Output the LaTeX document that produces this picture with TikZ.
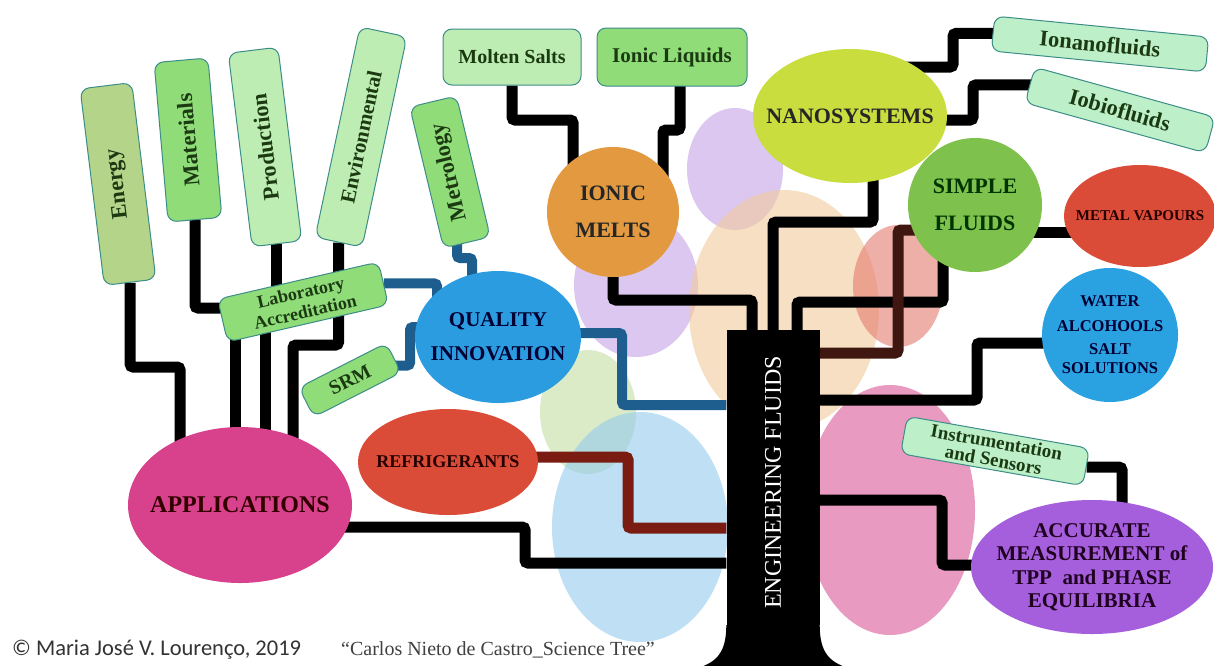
\documentclass[tikz,border=0pt]{standalone}
\usepackage{fontspec}
\setmainfont{Liberation Serif}
\newfontfamily\creditfont{Carlito}
\usetikzlibrary{shapes.geometric}
\pgfdeclarelayer{bubbles}
\pgfdeclarelayer{wires}
\pgfsetlayers{bubbles,wires,main}

\definecolor{appMagenta}{HTML}{D8428D}
\definecolor{refRed}{HTML}{DA4B38}
\definecolor{qualBlue}{HTML}{2B9CE0}
\definecolor{meltOrange}{HTML}{E2993F}
\definecolor{nanoLime}{HTML}{C9DD3F}
\definecolor{simpleGreen}{HTML}{7EC14C}
\definecolor{waterBlue}{HTML}{2AA2E2}
\definecolor{accPurple}{HTML}{A55FDC}
\definecolor{wireBlue}{HTML}{1E5E8E}
\definecolor{wireRed}{HTML}{7A1C12}
\definecolor{wireBrown}{HTML}{3F1610}
\definecolor{bubLavender}{HTML}{C5A2E6}
\definecolor{bubPeach}{HTML}{F2CA9E}
\definecolor{bubSalmon}{HTML}{E37B6E}
\definecolor{bubSage}{HTML}{C5DEA3}
\definecolor{bubSky}{HTML}{93CBEE}
\definecolor{bubPink}{HTML}{D95796}
\definecolor{leafEdge}{HTML}{3C8C88}
\definecolor{leafText}{HTML}{1C3A12}
\definecolor{leafOlive}{HTML}{B4D48A}
\definecolor{leafGreen}{HTML}{8FDC79}
\definecolor{leafPale}{HTML}{BDEDB2}
\definecolor{leafMint}{HTML}{BDF0C8}

\tikzset{
  leaf/.style={draw=leafEdge, line width=1pt, rounded corners=9pt, inner sep=2pt,
    text=leafText, align=center, font=\bfseries\fontsize{22.5}{24}\selectfont},
  fruit/.style={ellipse, inner sep=0pt},
  fruittext/.style={align=center, text=black!85, font=\bfseries\fontsize{21}{24}\selectfont},
  branchline/.style={draw=black, line width=11pt, rounded corners=3pt},
  bubble/.style={fill=#1, fill opacity=0.6},
}

\begin{document}
\begin{tikzpicture}[x=1pt,y=-1pt]
\useasboundingbox (0,0) rectangle (1214,665);

% soft background blobs
\begin{pgfonlayer}{bubbles}
\fill[white] (0,0) rectangle (1214,665);
\fill[bubble=bubLavender] (735,169) ellipse [x radius=48pt, y radius=61pt];
\fill[bubble=bubLavender] (636,285) ellipse [x radius=62pt, y radius=72pt];
\fill[bubble=bubPeach] (784,310) ellipse [x radius=95pt, y radius=120pt];
\fill[bubble=bubSalmon] (898,286) ellipse [x radius=45pt, y radius=61pt];
\fill[bubble=bubSage] (588,412) ellipse [x radius=48pt, y radius=62pt];
\fill[bubble=bubSky] (640,527) ellipse [x radius=88pt, y radius=115pt];
\fill[bubble=bubPink] (890,510) ellipse [x radius=85pt, y radius=125pt];
\end{pgfonlayer}

% trunk
\node[fill=black, minimum width=93pt, minimum height=295pt, inner sep=0pt] (trunk) at (773,477.5) {};
\fill (trunk.south west) .. controls +(0,28) and +(18,-6) .. (698,668) -- (848,668)
  .. controls +(-18,-6) and +(0,28) .. (trunk.south east) -- cycle;
\node[rotate=90, text=white, font=\fontsize{24}{24}\selectfont] (trunktext) at ([yshift=-5pt]trunk.center) {ENGINEERING FLUIDS};

% fruits
\node[fruit, fill=appMagenta, minimum width=224pt, minimum height=156pt,
  label={[fruittext, text=black!80!red, font=\bfseries\fontsize{24}{24}\selectfont]center:APPLICATIONS}] (apps) at (240,505) {};
\node[fruit, fill=refRed, minimum width=180pt, minimum height=106pt,
  label={[fruittext, text=black!85!red, font=\bfseries\fontsize{18}{18}\selectfont]center:REFRIGERANTS}] (refrig) at (448,462) {};
\node[fruit, fill=qualBlue, minimum width=166pt, minimum height=132pt,
  label={[fruittext, text=black!80!blue, font=\bfseries\fontsize{21}{34}\selectfont]center:QUALITY\\INNOVATION}] (quality) at (498,337) {};
\node[fruit, fill=meltOrange, minimum width=132pt, minimum height=130pt,
  label={[fruittext, font=\bfseries\fontsize{22}{37}\selectfont]center:IONIC\\MELTS}] (melts) at (613,212) {};
\node[fruit, fill=nanoLime, minimum width=194pt, minimum height=134pt,
  label={[fruittext, font=\bfseries\fontsize{22}{24}\selectfont]center:NANOSYSTEMS}] (nano) at (850,116) {};
\node[fruit, fill=simpleGreen, minimum width=134pt, minimum height=134pt,
  label={[fruittext, text=black!80!green, font=\bfseries\fontsize{22}{37}\selectfont]center:SIMPLE\\FLUIDS}] (simple) at (975,205) {};
\node[fruit, fill=refRed, minimum width=152pt, minimum height=102pt,
  label={[fruittext, text=black!85!red, font=\bfseries\fontsize{15}{15}\selectfont]center:METAL VAPOURS}] (metal) at (1140,216) {};
\node[fruit, fill=waterBlue, minimum width=136pt, minimum height=134pt,
  label={[fruittext, text=black!80!blue, font=\bfseries\fontsize{16.5}{19}\selectfont]center:WATER\\[6pt]ALCOHOOLS\\[4pt]SALT\\SOLUTIONS}] (water) at (1110,335) {};
\node[fruit, fill=accPurple, minimum width=242pt, minimum height=134pt,
  label={[fruittext, text=black!75!violet, font=\bfseries\fontsize{21}{23.5}\selectfont]center:ACCURATE\\MEASUREMENT of\\TPP \ and PHASE\\EQUILIBRIA}] (accurate) at (1092,567) {};

% leaves
\node[leaf, fill=leafOlive, rotate=97, minimum width=198pt, minimum height=52pt] (energy) at (118,184) {Energy};
\node[leaf, fill=leafGreen, rotate=95, minimum width=160pt, minimum height=54pt] (materials) at (188,140) {Materials};
\node[leaf, fill=leafPale, rotate=97, minimum width=195pt, minimum height=50pt] (production) at (265,147) {Production};
\node[leaf, fill=leafPale, rotate=78, minimum width=215pt, minimum height=48pt, font=\bfseries\fontsize{21}{23}\selectfont] (environmental) at (361,137) {Environmental};
\node[leaf, fill=leafGreen, rotate=103.5, minimum width=145pt, minimum height=48pt] (metrology) at (450,172) {Metrology};
\node[leaf, fill=leafPale, minimum width=138pt, minimum height=56pt, font=\bfseries\fontsize{20}{22}\selectfont] (molten) at (512,57) {Molten Salts};
\node[leaf, fill=leafGreen, minimum width=150pt, minimum height=58pt, font=\bfseries\fontsize{21}{23}\selectfont] (liquids) at (672,57) {Ionic Liquids};
\node[leaf, fill=leafMint, rotate=-5.6, minimum width=215pt, minimum height=35pt] (ionano) at (1100,44) {Ionanofluids};
\node[leaf, fill=leafMint, rotate=-15.5, minimum width=187pt, minimum height=37pt] (iobio) at (1120,110) {Iobiofluids};
\node[leaf, fill=leafGreen, rotate=13, minimum width=165pt, minimum height=44pt, font=\bfseries\fontsize{18}{20}\selectfont] (lab) at (303,302) {Laboratory\\Accreditation};
\node[leaf, fill=leafGreen, rotate=27, minimum width=98pt, minimum height=33pt, font=\bfseries\fontsize{20}{22}\selectfont] (srm) at (350,380) {SRM};
\node[leaf, fill=leafMint, rotate=-10, minimum width=185pt, minimum height=38pt, font=\bfseries\fontsize{19}{18}\selectfont] (instr) at (995,451) {Instrumentation\\and Sensors};

% branches
\begin{pgfonlayer}{wires}
\draw[branchline] (melts) |- (752,300) -- ([xshift=-21pt,yshift=-6pt]trunk.north);
\draw[branchline] ([xshift=23pt]nano.center) |- (773,222) -- ([yshift=-6pt]trunk.north);
\draw[branchline] ([xshift=-32pt]simple.center) |- (797,302) -- ([xshift=24pt,yshift=-6pt]trunk.north);
\draw[branchline, draw=wireBrown] ([yshift=-25pt]simple.center) -| (898,353) -- (trunk.east |- 0,353);
\draw[branchline] (simple.center |- 0,232) -- (metal.center |- 0,232);
\draw[branchline] (nano.center |- 0,67) -- (953,67) |- ([xshift=8pt]ionano.west);
\draw[branchline] (nano.center |- 0,120) -- (973,120) |- ([xshift=8pt]iobio.west);
\draw[branchline] (molten) |- (573,120) -- (573,120 |- melts.center);
\draw[branchline] ([xshift=8pt]liquids.center) |- (663,130) -- (663,130 |- melts.center);
\draw[branchline, draw=wireBlue, line width=10pt] ([xshift=-10pt]metrology.west) |- (472,258) -- (472,258 |- quality.center);
\draw[branchline, draw=wireBlue, line width=10pt] (lab.east) -| ([xshift=-61pt]quality.center);
\draw[branchline, draw=wireBlue, line width=10pt] ([yshift=-8pt]srm.east) -| (410,327) -- (quality.center |- 0,327);
\draw[branchline, draw=wireBlue, line width=10pt] ([yshift=4pt]quality.center) -| (622,405) -- (trunk.west |- 0,405);
\draw[branchline, draw=wireRed] ([yshift=5pt]refrig.center) -| (628,528) -- (trunk.west |- 0,528);
\draw[branchline] ([yshift=-22pt]apps.center) -| (525,563) -- (trunk.west |- 0,563);
\draw[branchline] (trunk.east |- 0,400) -| (977,343) -- (water.center |- 0,343);
\draw[branchline] (trunk.east |- 0,500) -| (942,565) -- (accurate.center |- 0,565);
\draw[branchline] (instr.east) -| ([xshift=30pt]accurate.center);
\draw[branchline] (energy.west) |- (180,367) -- (180,367 |- apps.center);
\draw[branchline] (materials.west) |- ([yshift=-6pt]lab.center);
\draw[branchline] (production.west) -- (production.west |- lab.center);
\draw[branchline] (environmental.west) |- (293,345) -- (293,345 |- apps.center);
\draw[branchline] (lab.center -| 235,0) -- (apps.center -| 235,0);
\draw[branchline] (lab.center -| 265,0) -- (apps.center -| 265,0);
\end{pgfonlayer}

% credits
\node[anchor=base west, inner sep=0pt, text=black!80, font=\creditfont\fontsize{22.5}{23}\selectfont] (credit) at (12,655) {© Maria José V. Lourenço, 2019};
\node[anchor=base west, inner sep=0pt, text=black!75, font=\fontsize{20}{22}\selectfont] (motto) at (341,655) {“Carlos Nieto de Castro\_Science Tree”};
\end{tikzpicture}
\end{document}
